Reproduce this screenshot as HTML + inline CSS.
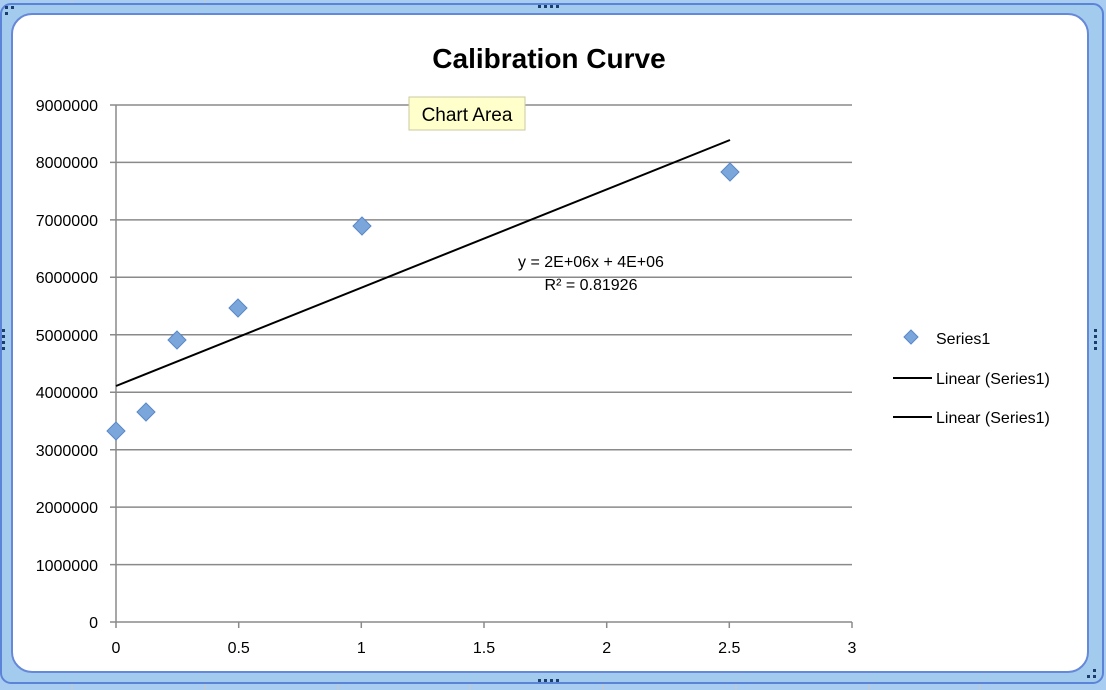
<!DOCTYPE html>
<html><head><meta charset="utf-8"><style>
html,body{margin:0;padding:0;background:#fff;}
svg{display:block;font-family:"Liberation Sans",sans-serif;}
</style></head><body>
<svg width="1106" height="690" viewBox="0 0 1106 690" xmlns="http://www.w3.org/2000/svg">
<rect x="0" y="0" width="1106" height="690" fill="#a9cdf0"/>
<g stroke="#c8c8c8" stroke-width="1">
<line x1="72" y1="0" x2="72" y2="4"/><line x1="205" y1="0" x2="205" y2="4"/><line x1="72" y1="680" x2="72" y2="690"/><line x1="205" y1="680" x2="205" y2="690"/><line x1="338" y1="680" x2="338" y2="690"/><line x1="470" y1="680" x2="470" y2="690"/><line x1="603" y1="680" x2="603" y2="690"/><line x1="736" y1="680" x2="736" y2="690"/><line x1="869" y1="680" x2="869" y2="690"/><line x1="980" y1="680" x2="980" y2="690"/>
</g>
<rect x="1" y="4" width="1102" height="679" rx="10" fill="#a3cbee" stroke="#5b84d8" stroke-width="2"/>
<rect x="12" y="14" width="1076" height="658" rx="20" fill="#fff" stroke="#6688d8" stroke-width="2"/>
<text x="549" y="68" font-size="28" font-weight="bold" text-anchor="middle" fill="#000">Calibration Curve</text>
<g stroke="#8a8a8a" stroke-width="1.5">
<line x1="110" y1="105" x2="852" y2="105"/><line x1="110" y1="162.4" x2="852" y2="162.4"/><line x1="110" y1="219.9" x2="852" y2="219.9"/><line x1="110" y1="277.3" x2="852" y2="277.3"/><line x1="110" y1="334.8" x2="852" y2="334.8"/><line x1="110" y1="392.2" x2="852" y2="392.2"/><line x1="110" y1="449.7" x2="852" y2="449.7"/><line x1="110" y1="507.1" x2="852" y2="507.1"/><line x1="110" y1="564.6" x2="852" y2="564.6"/><line x1="110" y1="622" x2="852" y2="622"/>
<line x1="116" y1="105" x2="116" y2="628"/>
<line x1="238.7" y1="622" x2="238.7" y2="628"/><line x1="361.3" y1="622" x2="361.3" y2="628"/><line x1="484" y1="622" x2="484" y2="628"/><line x1="606.7" y1="622" x2="606.7" y2="628"/><line x1="729.3" y1="622" x2="729.3" y2="628"/><line x1="852" y1="622" x2="852" y2="628"/>
</g>
<g font-size="16" text-anchor="end" fill="#000">
<text x="98" y="111">9000000</text><text x="98" y="168">8000000</text><text x="98" y="226">7000000</text><text x="98" y="283">6000000</text><text x="98" y="341">5000000</text><text x="98" y="398">4000000</text><text x="98" y="456">3000000</text><text x="98" y="513">2000000</text><text x="98" y="571">1000000</text><text x="98" y="628">0</text>
</g>
<g font-size="16" text-anchor="middle" fill="#000">
<text x="116" y="653">0</text><text x="238.7" y="653">0.5</text><text x="361.3" y="653">1</text><text x="484" y="653">1.5</text><text x="606.7" y="653">2</text><text x="729.3" y="653">2.5</text><text x="852" y="653">3</text>
</g>
<line x1="116" y1="386" x2="730" y2="140" stroke="#000" stroke-width="2"/>
<g fill="#7ba6dc" stroke="#5a88c8" stroke-width="1">
<path d="M116 422 l9 9 -9 9 -9 -9z"/>
<path d="M146 403 l9 9 -9 9 -9 -9z"/>
<path d="M177 331 l9 9 -9 9 -9 -9z"/>
<path d="M238 299 l9 9 -9 9 -9 -9z"/>
<path d="M362 217 l9 9 -9 9 -9 -9z"/>
<path d="M730 163 l9 9 -9 9 -9 -9z"/>
</g>
<text x="591" y="267" font-size="16" text-anchor="middle">y = 2E+06x + 4E+06</text>
<text x="591" y="290" font-size="16" text-anchor="middle">R² = 0.81926</text>
<rect x="409" y="97" width="116" height="33" fill="#ffffcc" stroke="#c8c8a0"/>
<text x="467" y="121" font-size="19" text-anchor="middle">Chart Area</text>
<path d="M911 330 l7 7 -7 7 -7 -7z" fill="#7ba6dc" stroke="#5a88c8"/>
<text x="936" y="344" font-size="16">Series1</text>
<line x1="893" y1="378" x2="932" y2="378" stroke="#000" stroke-width="2"/>
<text x="936" y="384" font-size="16">Linear (Series1)</text>
<line x1="893" y1="417" x2="932" y2="417" stroke="#000" stroke-width="2"/>
<text x="936" y="423" font-size="16">Linear (Series1)</text>
<g fill="#1a3d6e">
<rect x="5" y="6" width="3" height="3"/><rect x="11" y="6" width="3" height="3"/><rect x="5" y="12" width="3" height="3"/>
<rect x="538" y="5" width="3" height="3"/><rect x="544" y="5" width="3" height="3"/><rect x="550" y="5" width="3" height="3"/><rect x="556" y="5" width="3" height="3"/>
<rect x="538" y="679" width="3" height="3"/><rect x="544" y="679" width="3" height="3"/><rect x="550" y="679" width="3" height="3"/><rect x="556" y="679" width="3" height="3"/>
<rect x="1094" y="329" width="3" height="3"/><rect x="1094" y="335" width="3" height="3"/><rect x="1094" y="341" width="3" height="3"/><rect x="1094" y="347" width="3" height="3"/>
<rect x="2" y="329" width="3" height="3"/><rect x="2" y="335" width="3" height="3"/><rect x="2" y="341" width="3" height="3"/><rect x="2" y="347" width="3" height="3"/>
<rect x="1093" y="669" width="3" height="3"/><rect x="1087" y="675" width="3" height="3"/><rect x="1093" y="675" width="3" height="3"/>
</g>
</svg>
</body></html>
